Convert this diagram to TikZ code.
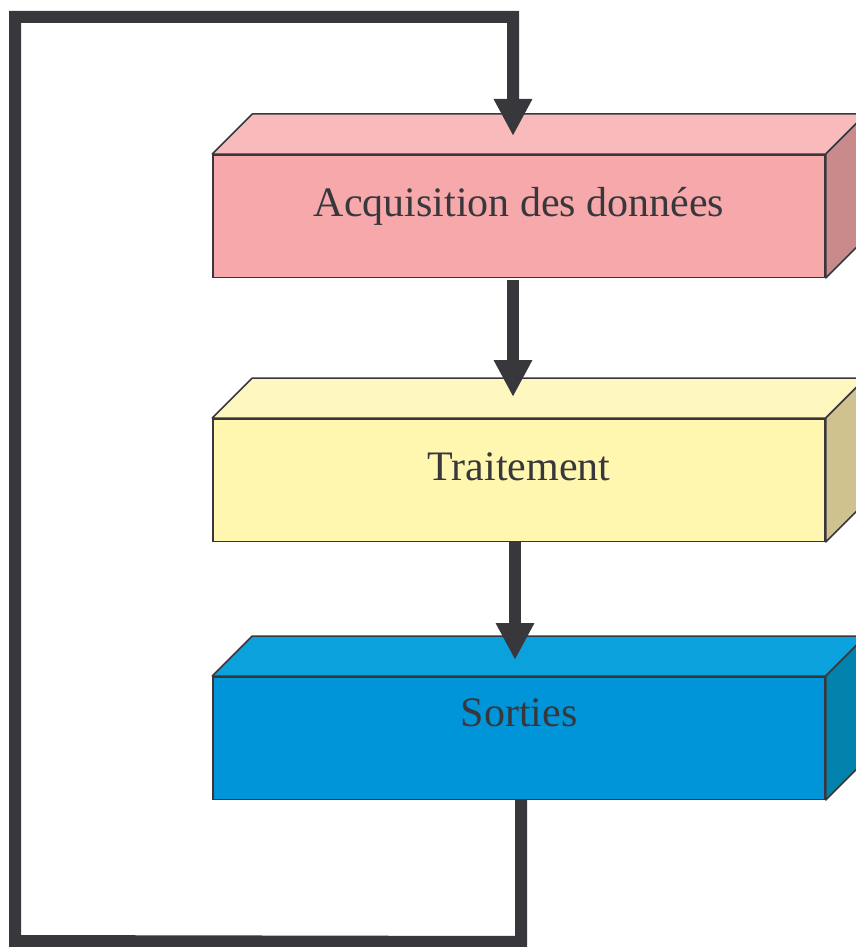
\documentclass[tikz,border=0pt]{standalone}
\usepackage{fontspec}
\setmainfont{Liberation Serif}
\usepackage{xcolor}
\usetikzlibrary{positioning,calc,arrows.meta}

\definecolor{trait}{HTML}{38383C}
\definecolor{acqfront}{HTML}{F6A8AA}
\definecolor{acqtop}{HTML}{F9BABB}
\definecolor{acqside}{HTML}{C98A8B}
\definecolor{trtfront}{HTML}{FFF6AF}
\definecolor{trttop}{HTML}{FFF7C0}
\definecolor{trtside}{HTML}{D0C28E}
\definecolor{sorfront}{HTML}{0094D9}
\definecolor{sortop}{HTML}{0AA1DC}
\definecolor{sorside}{HTML}{0082AC}

\tikzset{
	bloc/.style={draw=trait,line width=1.5pt,minimum width=612pt,minimum height=122.5pt,inner sep=0pt},
	face/.style={draw=trait,line width=1.5pt,line join=round},
	lbl/.style={anchor=base,text=trait,font=\fontsize{42}{50}\selectfont,inner sep=0pt},
	flux/.style={draw=trait,line width=12pt,-{Triangle[width=36pt,length=37pt]}},
}

\begin{document}
\begin{tikzpicture}[x=1pt,y=-1pt]
				\useasboundingbox (0,0) rectangle (856,947);
				\clip (0,0) rectangle (856,947);
				\node[bloc,fill=acqfront] (acq) at (519,216) {};
				\node[bloc,fill=trtfront,below=140pt of acq] (trt) {};
				\node[bloc,fill=sorfront,below=134pt of trt] (sor) {};
				% faces du dessus et de cote
				\foreach \b/\c in {acq/acq,trt/trt,sor/sor}{
					\draw[face,fill=\c top] (\b.north west) -- ++(40,-40) -- ($(\b.north east)+(40,-40)$) -- (\b.north east) -- cycle;
					\draw[face,fill=\c side] (\b.north east) -- ++(40,-40) -- ($(\b.south east)+(40,-40)$) -- (\b.south east) -- cycle;
				}
				\node[lbl] (tacq) at ($(acq.north)+(0,62)$) {Acquisition des données};
				\node[lbl] (ttrt) at ($(trt.north)+(0,62)$) {Traitement};
				\node[lbl] (tsor) at ($(sor.north)+(0,50)$) {Sorties};
				% boucle
				\coordinate (s1) at ($(sor.south)+(2,0)$);
				\coordinate (b1) at ($(s1)+(0,142)$);
				\coordinate (g1) at (15,941);
				\coordinate (g2) at (15,17);
				\coordinate (h1) at (513,17);
				\coordinate (e1) at ($(acq.north)+(-6,-18)$);
				\draw[flux] (s1) -- (b1) -- (g1) -- (g2) -- (h1) -- (e1);
				% fleches
				\draw[flux] ($(acq.south)+(-6,2)$) -- ($(trt.north)+(-6,-21)$);
				\draw[flux] ($(trt.south)+(-4,0)$) -- ($(sor.north)+(-4,-16)$);
\end{tikzpicture}
\end{document}
